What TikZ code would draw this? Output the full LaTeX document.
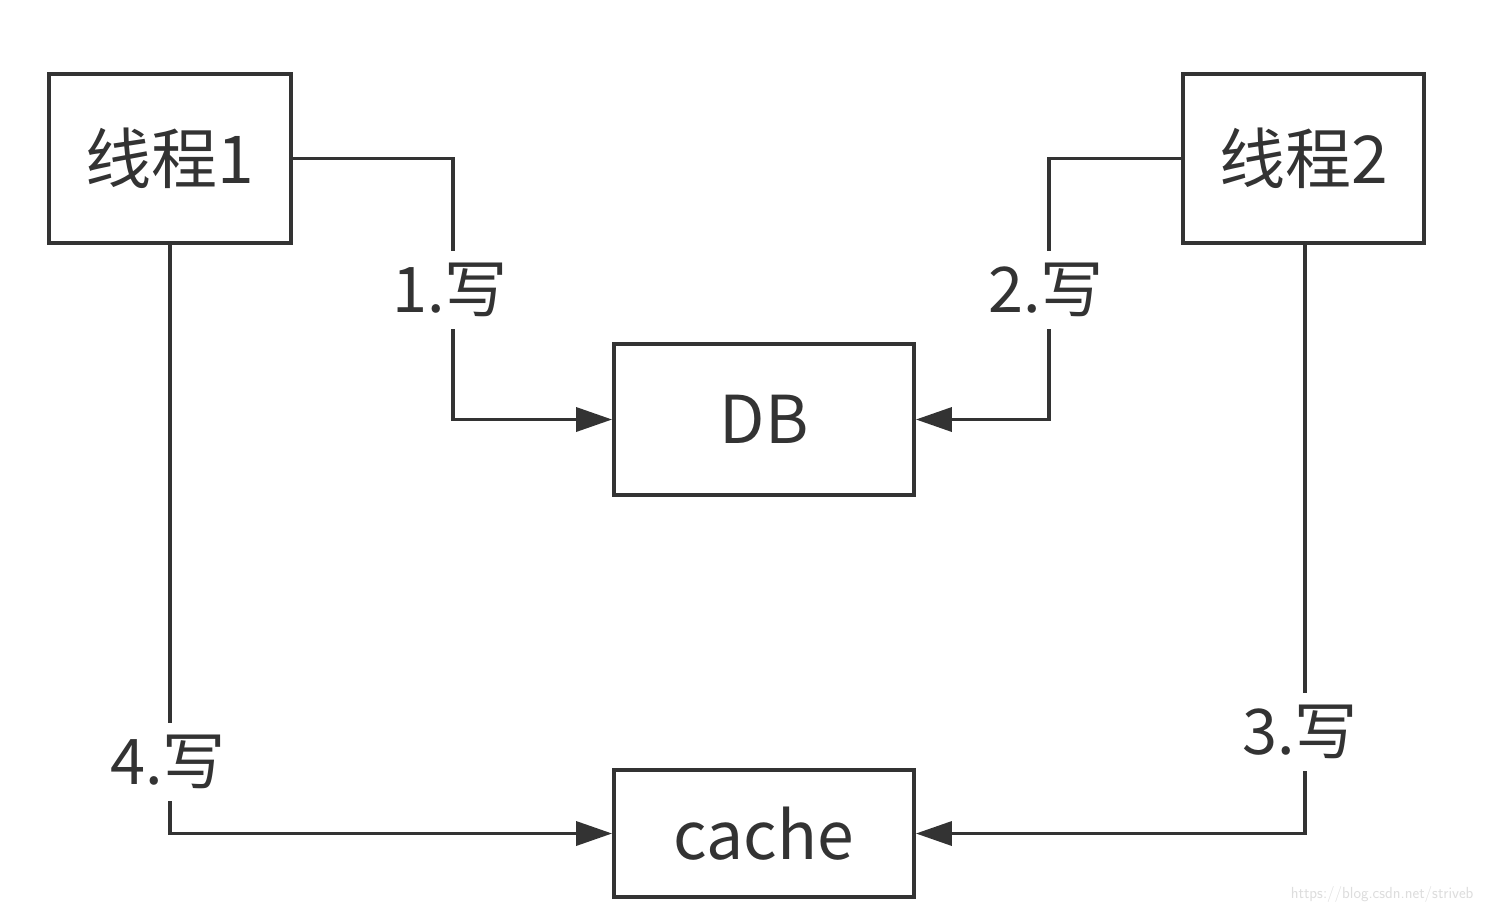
\documentclass[tikz,border=0pt]{standalone}
\usepackage{fontspec}
\newfontfamily\cjk{Noto Sans CJK SC}
\usetikzlibrary{arrows.meta}
\definecolor{ink}{HTML}{333333}
\definecolor{wm}{HTML}{DDDDDD}
\begin{document}
\begin{tikzpicture}[x=1pt,y=-1pt,
  box/.style={draw=ink,line width=3.8pt,rectangle,inner sep=0pt,text=ink,font=\cjk\fontsize{66}{70}\selectfont},
  conn/.style={draw=ink,line width=3.5pt},
  arr/.style={conn,-{Triangle[length=36pt,width=24pt]}},
  lbl/.style={fill=white,inner xsep=2pt,inner ysep=12pt,text=ink,font=\cjk\fontsize{63}{66}\selectfont}]
\useasboundingbox[fill=white] (0,0) rectangle (1486,914);
\node[box,minimum width=242pt,minimum height=169pt,font=\cjk\fontsize{66}{70}\selectfont] (t1) at (170,158.5) {线程1};
\node[box,minimum width=241pt,minimum height=169pt,font=\cjk\fontsize{66}{70}\selectfont] (t2) at (1303.5,158.5) {线程2};
\node[box,minimum width=300pt,minimum height=151pt] (db) at (764,419.5) {DB};
\node[box,minimum width=300pt,minimum height=127pt] (cache) at (764,833.5) {cache};
\coordinate (c1) at (453,158.5);
\coordinate (c2) at (1049,158.5);
\coordinate (c3) at (1305,243);
\coordinate (c4) at (170,243);
\draw[arr] (t1.east) -- (c1) |- (db.west);
\draw[arr] (t2.west) -- (c2) |- (db.east);
\draw[arr] (c3) |- (cache.east);
\draw[arr] (c4) |- (cache.west);
\node[lbl] (l1) at (450,290) {1.写};
\node[lbl] (l2) at (1046,290) {2.写};
\node[lbl] (l3) at (1300,732) {3.写};
\node[lbl] (l4) at (168,762) {4.写};
\node[text=wm,font=\sffamily\fontsize{16}{18}\selectfont,anchor=east] (wmk) at (1477,894) {https://blog.csdn.net/striveb};
\end{tikzpicture}
\end{document}
